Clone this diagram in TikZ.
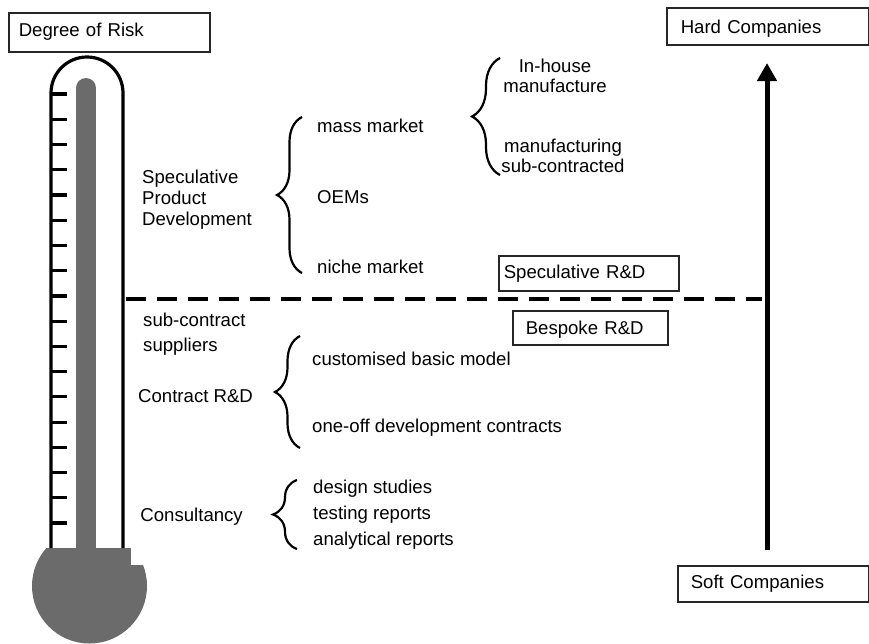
\documentclass[tikz,border=0pt]{standalone}
\usepackage{fontspec}
\setmainfont{Liberation Sans}
\usetikzlibrary{arrows.meta,decorations.pathreplacing}
\definecolor{mercury}{HTML}{6B6B6B}
\begin{document}
\begin{tikzpicture}[x=1pt,y=-1pt,
  txt/.style={font=\fontsize{18.6}{21}\selectfont},
  lbl/.style={txt,anchor=base west,inner sep=0pt},
  lblc/.style={txt,anchor=base,inner sep=0pt},
  tag/.style={txt,draw=black!85,line width=1.5pt,anchor=north west,inner ysep=0pt,align=left},
  brc/.style={decorate,decoration={brace,amplitude=#1},line width=2.2pt},
  tube/.style={line width=3.2pt},
  tick/.style={line width=3.2pt},
  divider/.style={line width=4.5pt,dash pattern=on 19.5pt off 11.5pt},
  scale arrow/.style={line width=5pt,-{Triangle[width=19pt,length=18pt]}}
]
\useasboundingbox (0,0) rectangle (869,643);
\clip (0,0) rectangle (869,643);

% thermometer bulb
\begin{scope}
  \clip (0,548) rectangle (300,700);
  \fill[mercury] (89.5,586) circle[radius=57.5];
\end{scope}
\fill[white] (131,547) rectangle (150,565);
% mercury column
\draw[mercury,line width=20pt,line cap=round] (86,88) -- (86,560);
% tube
\draw[tube] (51,548) -- (51,93) arc[start angle=180,end angle=360,radius=36] -- (123,548);
\foreach \k in {0,...,17}
  \draw[tick] (51,{94+25.24*\k}) -- (67,{94+25.24*\k});

% boxes
\node[tag,text width=181pt,inner xsep=10pt,minimum height=39pt,text height=13pt,text depth=4pt] (risk) at (8,12) {Degree of Risk};
\node[tag,text width=174pt,inner xsep=14pt,minimum height=37pt,text height=15pt,text depth=0pt] (hard) at (666,7) {Hard Companies};
\node[tag,text width=165pt,inner xsep=13pt,minimum height=36pt,text height=13pt,text depth=3pt] (soft) at (677,565) {Soft Companies};
\node[tag,text width=170pt,inner xsep=5pt,minimum height=35pt,text height=13.5pt,text depth=2.5pt] (specrd) at (498,255) {Speculative R\&D};
\node[tag,text width=129pt,inner xsep=13pt,minimum height=34pt,text height=14pt,text depth=0pt] (bespoke) at (512,310) {Bespoke R\&D};

% dashed divider and arrow
\coordinate (dashL) at (126,299);
\coordinate (dashR) at (762,299);
\draw[divider] (dashL) -- (dashR);
\coordinate (arrBot) at (767,550);
\coordinate (arrTop) at (767,63);
\draw[scale arrow] (arrBot) -- (arrTop);

% left labels
\node[lbl] (spec1) at (142,183) {Speculative};
\node[lbl] (spec2) at (142,204) {Product};
\node[lbl] (spec3) at (142,225) {Development};
\node[lbl] (sub1) at (143,326) {sub-contract};
\node[lbl] (sub2) at (143,351) {suppliers};
\node[lbl] (contract) at (138,402) {Contract R\&D};
\node[lbl,anchor=base east] (consult) at (243,521) {Consultancy};

% braces
\draw[brc=25pt] (302,273) -- (302,117);
\draw[brc=28pt] (500,175) -- (500,58);
\draw[brc=25pt] (300,448) -- (300,336);
\draw[brc=24pt] (297,549) -- (297,480);

% right labels
\node[lbl] (mass) at (317,132) {mass market};
\node[lbl] (oem) at (317,203) {OEMs};
\node[lbl] (niche) at (317,273) {niche market};
\node[lblc] (inh1) at (555,72) {In-house};
\node[lblc] (inh2) at (555,92) {manufacture};
\node[lblc] (msub1) at (563,152) {manufacturing};
\node[lblc] (msub2) at (563,172) {sub-contracted};
\node[lbl] (custom) at (312,365) {customised basic model};
\node[lbl] (oneoff) at (312,432) {one-off development contracts};
\node[lbl] (design) at (313,493) {design studies};
\node[lbl] (testing) at (313,519) {testing reports};
\node[lbl] (analytic) at (313,545) {analytical reports};
\end{tikzpicture}
\end{document}
